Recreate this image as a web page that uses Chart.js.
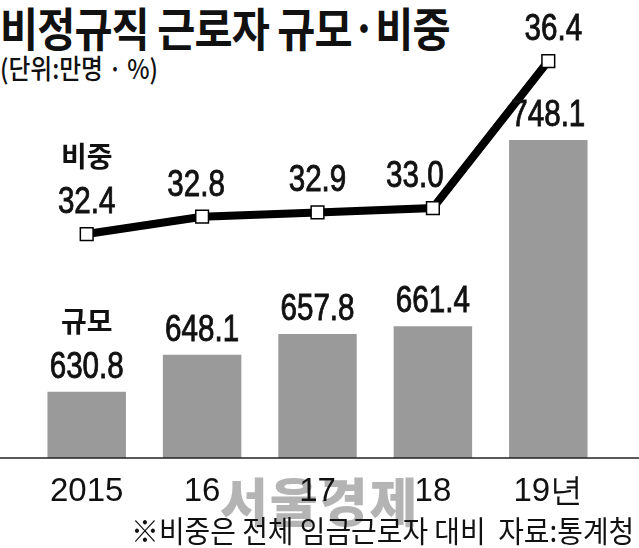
<!DOCTYPE html>
<html>
<head>
<meta charset="utf-8">
<script src="https://cdn.jsdelivr.net/npm/chart.js@4/dist/chart.umd.min.js"></script>
<style>
  body { margin: 0; background: #fff; }
  #wrap { position: relative; width: 639px; height: 548px; overflow: hidden; }
  #chart { position: absolute; left: 0; top: 0; z-index: 1; }
  .txt { position: absolute; white-space: nowrap; transform-origin: left top; font-family: "Noto Sans CJK KR", sans-serif; color: #111; line-height: 1; }
  #title { left: 0; top: 3px; font-size: 46px; font-weight: 700; transform: scaleX(0.9); letter-spacing: -1px; }
  #unit { left: 0; top: 54px; font-size: 27px; font-weight: 500; transform: scaleX(0.88); }
  #note { left: 131px; top: 514px; font-size: 30px; transform: scaleX(0.93); z-index: 2; }
  #mark { left: 220px; top: 474px; font-size: 52px; font-weight: 900; color: #b4b4b4; z-index: 0; letter-spacing: 2px; }
</style>
</head>
<body>
<div id="wrap">
  <div class="txt" id="title">비정규직 근로자 규모·비중</div>
  <div class="txt" id="unit">(단위:만명 · %)</div>
  <div class="txt" id="mark">서울경제</div>
  <canvas id="chart" width="639" height="548"></canvas>
  <div class="txt" id="note">※비중은 전체 임금근로자 대비&nbsp;&nbsp;자료:통계청</div>
</div>
<script>
// 비정규직 근로자 규모(만명)와 비중(%)
const years = ['2015', '16', '17', '18', '19년'];
const workers = [630.8, 648.1, 657.8, 661.4, 748.1];
const shares = [32.4, 32.8, 32.9, 33.0, 36.4];

// 라벨 가로 이동 (선 라벨)
const lineLabelShift = [0, -6, 0, -18, 5];

function condensedText(ctx, text, x, y, size, sx) {
    ctx.save();
    ctx.font = size + 'px "Liberation Sans", Arial, sans-serif';
    ctx.textAlign = 'center';
    ctx.textBaseline = 'alphabetic';
    ctx.translate(x, y);
    ctx.scale(sx, 1);
    ctx.fillStyle = '#111';
    ctx.strokeStyle = '#111';
    ctx.lineWidth = 0.9;
    ctx.fillText(text, 0, 0);
    ctx.strokeText(text, 0, 0);
    ctx.restore();
}

const valueLabels = {
    id: 'valueLabels',
    afterDatasetsDraw(chart) {
        const ctx = chart.ctx;
        const lineMeta = chart.getDatasetMeta(0);
        const barMeta = chart.getDatasetMeta(1);

        barMeta.data.forEach((bar, i) => {
            condensedText(ctx, workers[i].toFixed(1), bar.x, bar.y - 14, 37, 0.8);
        });
        lineMeta.data.forEach((pt, i) => {
            condensedText(ctx, shares[i].toFixed(1), pt.x + lineLabelShift[i], pt.y - 21, 37, 0.8);
        });

        // 시리즈 이름
        ctx.save();
        ctx.font = 'bold 28px "Noto Sans CJK KR", sans-serif';
        ctx.textAlign = 'center';
        ctx.textBaseline = 'alphabetic';
        ctx.fillStyle = '#111';
        ctx.fillText('규모', barMeta.data[0].x, barMeta.data[0].y - 60);
        ctx.fillText('비중', lineMeta.data[0].x, lineMeta.data[0].y - 67);
        ctx.restore();
    },
    afterDraw(chart) {
        // 밑줄 (전체 폭)
        const ctx = chart.ctx;
        const y = chart.scales.y.bottom;
        ctx.save();
        ctx.strokeStyle = '#222';
        ctx.lineWidth = 1.5;
        ctx.beginPath();
        ctx.moveTo(0, y);
        ctx.lineTo(chart.width, y);
        ctx.stroke();
        ctx.restore();
    }
};

new Chart(document.getElementById('chart').getContext('2d'), {
    type: 'bar',
    data: {
        labels: years,
        datasets: [{
            type: 'line',
            label: '비중',
            data: shares,
            yAxisID: 'y2',
            order: 0,
            borderColor: '#000',
            borderWidth: 8,
            tension: 0,
            pointStyle: 'rect',
            pointRadius: 9,
            pointBackgroundColor: '#fff',
            pointBorderColor: '#000',
            pointBorderWidth: 1.5,
        }, {
            type: 'bar',
            label: '규모',
            data: workers,
            yAxisID: 'y',
            order: 1,
            backgroundColor: '#9a9a9a',
            barPercentage: 0.68,
            categoryPercentage: 1.0,
        }],
    },
    options: {
        responsive: false,
        animation: false,
        layout: { padding: { left: 29, right: 33, top: 20, bottom: 0 } },
        plugins: {
            legend: { display: false },
            tooltip: { enabled: false },
        },
        scales: {
            x: {
                offset: true,
                grid: { display: false, drawTicks: false },
                border: { display: false },
                ticks: {
                    color: '#111',
                    padding: 14,
                    font: { family: '"Liberation Sans", Arial, sans-serif', size: 33 },
                },
                afterFit: (scale) => { scale.height = 90; },
            },
            y: { display: false, min: 600, max: 804 },
            y2: { display: false, min: 27.22, max: 37.35 },
        },
    },
    plugins: [valueLabels],
});
</script>
</body>
</html>
